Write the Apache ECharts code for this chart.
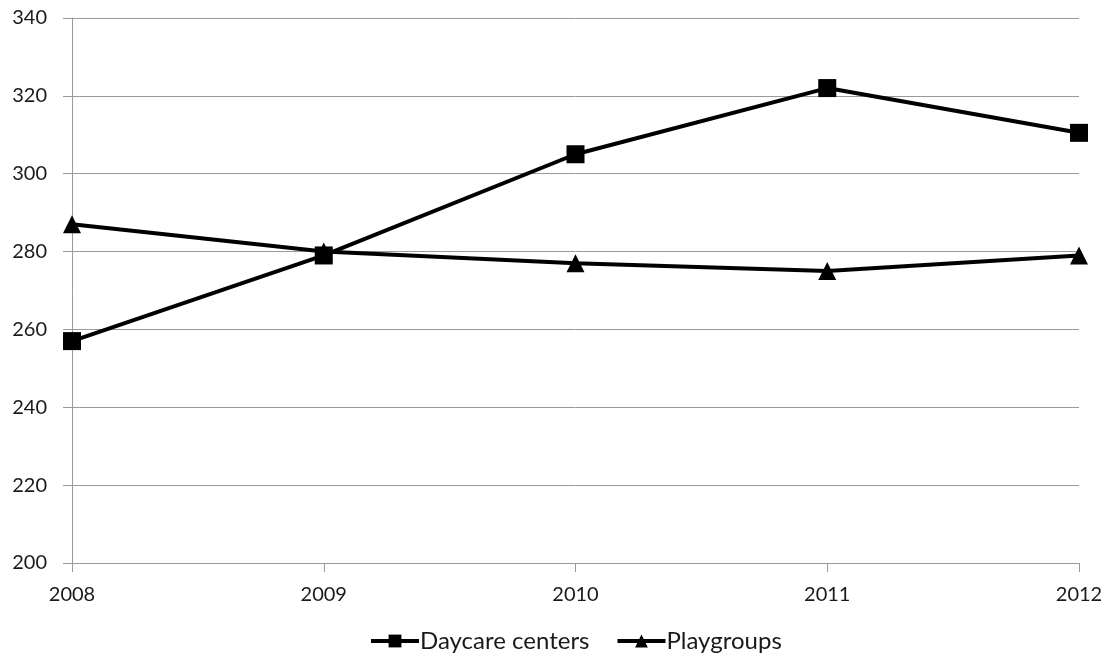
<!DOCTYPE html>
<html>
<head>
<meta charset="utf-8">
<script src="https://cdn.jsdelivr.net/npm/echarts@6/dist/echarts.min.js"></script>
<style>
  html, body { margin: 0; padding: 0; background: #fff; }
  #chart { width: 1111px; height: 660px; }
</style>
</head>
<body>
<div id="chart"></div>
<script>
const years = ['2008', '2009', '2010', '2011', '2012'];
const daycareCenters = [257, 279, 305, 322, 310.5];
const playgroups = [287, 280, 277, 275, 279];
const yTicks = { min: 200, max: 340, step: 20 };

const chart = echarts.init(document.getElementById('chart'));
const font = 'Lato, "Open Sans", sans-serif';
const gray = '#9a9a9a';
const textColor = '#1a1a1a';

chart.setOption({
  animation: false,
  backgroundColor: '#fff',
  grid: { left: 72, right: 32, top: 18, bottom: 97, containLabel: false },
  xAxis: {
    type: 'category',
    data: years,
    boundaryGap: false,
    axisLine: { lineStyle: { color: gray, width: 1 } },
    axisTick: { show: true, length: 9, alignWithLabel: true, lineStyle: { color: gray } },
    axisLabel: { color: textColor, fontFamily: font, fontSize: 20, margin: 22 },
    splitLine: { show: false }
  },
  yAxis: {
    type: 'value',
    min: yTicks.min,
    max: yTicks.max,
    interval: yTicks.step,
    axisLine: { show: true, lineStyle: { color: gray, width: 1 } },
    axisTick: { show: true, length: 9, lineStyle: { color: gray } },
    axisLabel: { color: textColor, fontFamily: font, fontSize: 20, margin: 25 },
    splitLine: { show: true, lineStyle: { color: gray, width: 1 } }
  },
  legend: {
    bottom: 2,
    left: 364,
    itemGap: 26,
    itemWidth: 48,
    itemHeight: 16,
    lineStyle: { width: 4 },
    textStyle: { color: textColor, fontFamily: font, fontSize: 24, padding: [0, 0, 0, -4] },
    data: ['Daycare centers', 'Playgroups']
  },
  series: [
    {
      name: 'Daycare centers',
      type: 'line',
      data: daycareCenters,
      symbol: 'rect',
      symbolSize: 18,
      lineStyle: { color: '#000', width: 4 },
      itemStyle: { color: '#000' }
    },
    {
      name: 'Playgroups',
      type: 'line',
      data: playgroups,
      symbol: 'triangle',
      symbolSize: 18,
      lineStyle: { color: '#000', width: 4 },
      itemStyle: { color: '#000' }
    }
  ]
});
</script>
</body>
</html>
